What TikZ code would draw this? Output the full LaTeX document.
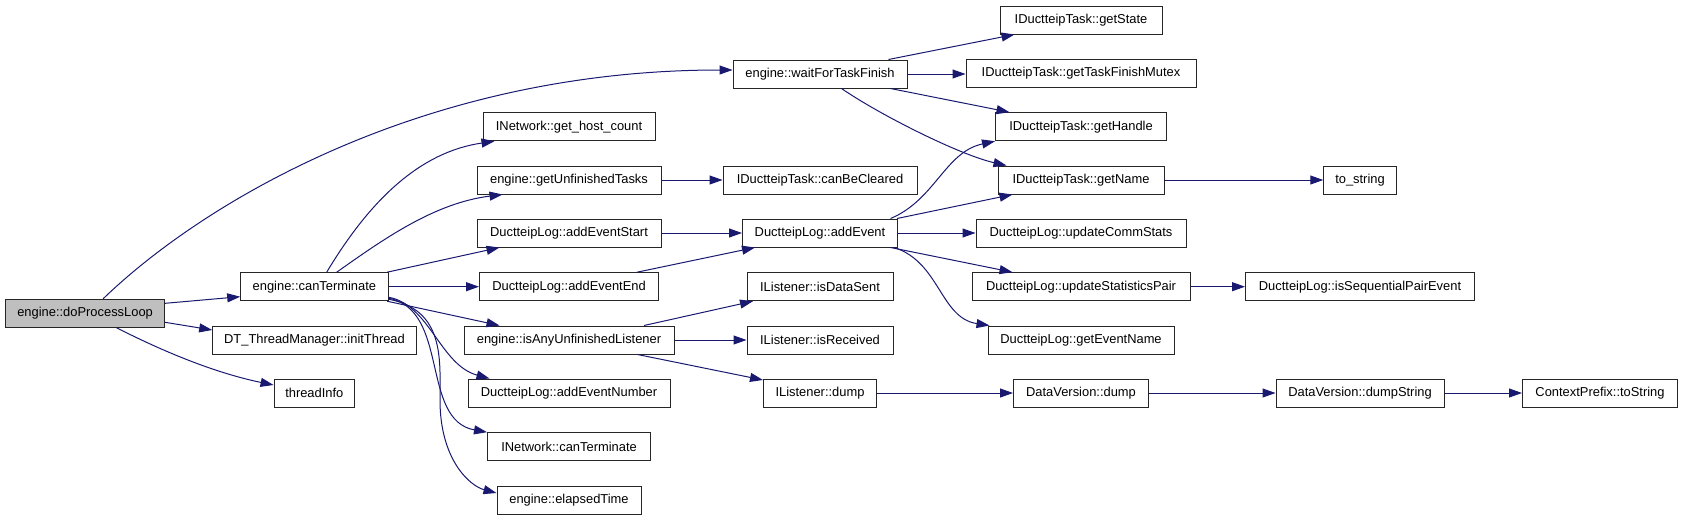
\documentclass[tikz,border=0pt]{standalone}
\usepackage{fontspec}
\setmainfont{Liberation Sans}
\usetikzlibrary{arrows.meta,calc}
\definecolor{edgecol}{HTML}{191970}
\definecolor{rootfill}{HTML}{BFBFBF}
\begin{document}
\begin{tikzpicture}[x=1pt,y=-1pt,
  box/.style={draw=black!85,line width=1pt,fill=white,minimum height=28pt,inner sep=0pt,
    font=\fontsize{12.9}{15}\selectfont},
  root/.style={box,fill=rootfill},
  edge/.style={draw=edgecol,line width=1pt,-{Triangle[length=13pt,width=9pt]}}]
\useasboundingbox (0,0) rectangle (1683,520);
% column 0
\node[root,minimum width=159pt] (dpl) at (85.1,313.3) {engine::doProcessLoop};
% column 1
\node[box,minimum width=147.4pt] (ct) at (314.4,286.7) {engine::canTerminate};
\node[box,minimum width=203.6pt] (init) at (314.5,340) {DT\_ThreadManager::initThread};
\node[box,minimum width=80.5pt] (ti) at (314.3,393) {threadInfo};
% column 2
\node[box,minimum width=172pt] (ghc) at (569,126.7) {INetwork::get\_host\_count};
\node[box,minimum width=184pt] (gut) at (569,180) {engine::getUnfinishedTasks};
\node[box,minimum width=184pt] (aes) at (569,233) {DuctteipLog::addEventStart};
\node[box,minimum width=179pt] (aee) at (569,286.7) {DuctteipLog::addEventEnd};
\node[box,minimum width=210pt] (iaul) at (569,340) {engine::isAnyUnfinishedListener};
\node[box,minimum width=202pt] (aen) at (569,393) {DuctteipLog::addEventNumber};
\node[box,minimum width=163pt] (nct) at (569,446.7) {INetwork::canTerminate};
\node[box,minimum width=144pt] (et) at (569,500) {engine::elapsedTime};
% column 3
\node[box,minimum width=174pt] (wftf) at (820,74) {engine::waitForTaskFinish};
\node[box,minimum width=194pt] (cbc) at (820,180) {IDuctteipTask::canBeCleared};
\node[box,minimum width=155pt] (ae) at (820,233) {DuctteipLog::addEvent};
\node[box,minimum width=146pt] (ids) at (820,286.7) {IListener::isDataSent};
\node[box,minimum width=146pt] (ir) at (820,340) {IListener::isReceived};
\node[box,minimum width=113pt] (ld) at (820,393) {IListener::dump};
% column 4
\node[box,minimum width=162pt] (gs) at (1081,20) {IDuctteipTask::getState};
\node[box,minimum width=230pt] (gtfm) at (1081,73.3) {IDuctteipTask::getTaskFinishMutex};
\node[box,minimum width=171pt] (gh) at (1081,126.7) {IDuctteipTask::getHandle};
\node[box,minimum width=166pt] (gn) at (1081,180) {IDuctteipTask::getName};
\node[box,minimum width=210pt] (ucs) at (1081,233) {DuctteipLog::updateCommStats};
\node[box,minimum width=218pt] (usp) at (1081,286.7) {DuctteipLog::updateStatisticsPair};
\node[box,minimum width=186pt] (gen) at (1081,340) {DuctteipLog::getEventName};
\node[box,minimum width=135pt] (dvd) at (1081,393) {DataVersion::dump};
% column 5
\node[box,minimum width=72.5pt] (ts) at (1360,180) {to\_string};
\node[box,minimum width=229pt] (ispe) at (1360,286.7) {DuctteipLog::isSequentialPairEvent};
\node[box,minimum width=168pt] (dvds) at (1360,393) {DataVersion::dumpString};
% column 6
\node[box,minimum width=155pt] (cpts) at (1600,393) {ContextPrefix::toString};
% edges from doProcessLoop
\draw[edge] ($(dpl.north)+(18,0)$) .. controls (200,205) and (420,70) .. ($(wftf.west)+(0,-4)$);
\draw[edge] ($(dpl.east)+(0,-10)$) -- ($(ct.west)+(0,10)$);
\draw[edge] ($(dpl.east)+(0,9)$) -- ($(init.west)+(0,-10)$);
\draw[edge] ($(dpl.south)+(31.6,0)$) .. controls (170,355) and (220,374) .. ($(ti.west)+(0,-8)$);
% edges from canTerminate
\draw[edge] ($(ct.north)+(12.3,0)$) .. controls (370,200) and (420,152) .. ($(ghc.south west)+(12,0)$);
\draw[edge] ($(ct.north)+(22.3,0)$) .. controls (385,238) and (435,203) .. ($(gut.south west)+(26,0)$);
\draw[edge] ($(ct.north east)+(-1.5,0)$) -- ($(aes.south west)+(23,0)$);
\draw[edge] (ct.east) -- (aee.west);
\draw[edge] ($(ct.south east)+(-1.5,0)$) -- ($(iaul.north west)+(36,0)$);
\draw[edge] ($(ct.east)+(0,10.5)$) .. controls (430,305) and (440,365) .. ($(aen.north west)+(22,0)$);
\draw[edge] ($(ct.east)+(0,11.5)$) .. controls (450,310) and (420,420) .. (nct.north west);
\draw[edge] ($(ct.east)+(0,12.5)$) .. controls (445,310) and (440,360) .. (440,400) .. controls (440,460) and (470,486) .. ($(et.west)+(0,-7)$);
% edges from column 2
\draw[edge] (gut.east) -- (cbc.west);
\draw[edge] (aes.east) -- (ae.west);
\draw[edge] ($(aee.north east)+(-22,0)$) -- ($(ae.south west)+(13,0)$);
\draw[edge] ($(iaul.north east)+(-30.5,0)$) -- ($(ids.south west)+(6.5,0)$);
\draw[edge] (iaul.east) -- (ir.west);
\draw[edge] ($(iaul.south east)+(-37,0)$) -- ($(ld.north west)+(0,1.5)$);
% edges from waitForTaskFinish
\draw[edge] ($(wftf.north east)+(-19,0)$) -- ($(gs.south west)+(15,0)$);
\draw[edge] (wftf.east) -- (gtfm.west |- wftf.east);
\draw[edge] ($(wftf.south east)+(-17,0)$) -- ($(gh.north west)+(14.5,0)$);
\draw[edge] ($(wftf.south)+(21.5,0)$) .. controls (880,115) and (960,155) .. ($(gn.north west)+(9,0)$);
% edges from addEvent
\draw[edge] ($(ae.north east)+(-7.5,0)$) .. controls (935,200) and (945,152) .. (gh.south west);
\draw[edge] ($(ae.north east)+(-1,0)$) -- ($(gn.south west)+(15,0)$);
\draw[edge] (ae.east) -- (ucs.west);
\draw[edge] ($(ae.south east)+(-7.5,0)$) -- ($(usp.north west)+(41,0)$);
\draw[edge] ($(ae.south east)+(-4,0)$) .. controls (940,262) and (940,318) .. ($(gen.north west)+(2,0)$);
% remaining
\draw[edge] (gn.east) -- (ts.west);
\draw[edge] (usp.east) -- (ispe.west);
\draw[edge] (ld.east) -- (dvd.west);
\draw[edge] (dvd.east) -- (dvds.west);
\draw[edge] (dvds.east) -- (cpts.west);
\end{tikzpicture}
\end{document}
